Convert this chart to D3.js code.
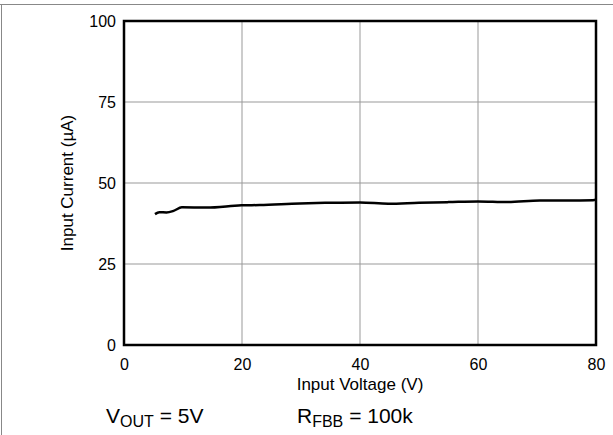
<!DOCTYPE html>
<html><head><meta charset="utf-8">
<script src="https://cdn.jsdelivr.net/npm/d3@7"></script>
<style>body{margin:0;background:#fff}svg{display:block;font-family:"Liberation Sans",Arial,sans-serif}</style>
</head><body><svg id="c" width="613" height="435"></svg>
<script>
const voltage = [5.25, 6.0, 7.2, 8.4, 9.8, 14.0, 19.9, 23, 29.8, 35, 40, 44.8, 50, 55, 60, 65, 70.5, 75, 79.5, 80];
const current = [40.4, 41.0, 40.9, 41.4, 42.5, 42.4, 43.1, 43.2, 43.7, 43.9, 44.0, 43.6, 43.9, 44.1, 44.3, 44.1, 44.6, 44.6, 44.7, 44.8];
const xTicks = [0, 20, 40, 60, 80];
const yTicks = [0, 25, 50, 75, 100];

const FONT = "Liberation Sans, Arial, sans-serif";
const svg = d3.select("#c");
const L = 124, R = 596, T = 21, B = 345;
const x = d3.scaleLinear().domain([0, 80]).range([L, R]);
const y = d3.scaleLinear().domain([0, 100]).range([B, T]);

// outer border
svg.append("line").attr("x1",0).attr("x2",613).attr("y1",4.5).attr("y2",4.5).attr("stroke","#888").attr("stroke-width",1);
svg.append("line").attr("x1",1.5).attr("x2",1.5).attr("y1",4).attr("y2",435).attr("stroke","#888").attr("stroke-width",1);

// grid
svg.append("g").selectAll("line").data(xTicks.slice(1,-1)).join("line")
  .attr("x1",d=>x(d)).attr("x2",d=>x(d)).attr("y1",T).attr("y2",B)
  .attr("stroke","#999").attr("stroke-width",1);
svg.append("g").selectAll("line").data(yTicks.slice(1,-1)).join("line")
  .attr("x1",L).attr("x2",R).attr("y1",d=>y(d)).attr("y2",d=>y(d))
  .attr("stroke","#999").attr("stroke-width",1);

// axes
const gx = svg.append("g").attr("transform",`translate(0,${B})`)
  .call(d3.axisBottom(x).tickValues(xTicks).tickSize(0).tickPadding(14));
gx.attr("font-size",16).attr("font-family",FONT);
gx.select(".domain").remove();
gx.selectAll("text").attr("fill","#000");
const gy = svg.append("g").attr("transform",`translate(${L},0)`)
  .call(d3.axisLeft(y).tickValues(yTicks).tickSize(0).tickPadding(8));
gy.attr("font-size",16).attr("font-family",FONT);
gy.select(".domain").remove();
gy.selectAll("text").attr("fill","#000");

// frame
svg.append("rect").attr("x",L).attr("y",T).attr("width",R-L).attr("height",B-T)
  .attr("fill","none").attr("stroke","#000").attr("stroke-width",2.5);

// curve
svg.append("path").datum(voltage.map((v,i)=>[v,current[i]]))
  .attr("d", d3.line().x(d=>x(d[0])).y(d=>y(d[1])).curve(d3.curveMonotoneX))
  .attr("fill","none").attr("stroke","#000").attr("stroke-width",2.5);

// axis titles
svg.append("text").attr("x",(L+R)/2).attr("y",390).attr("text-anchor","middle")
  .attr("font-size",17).text("Input Voltage (V)");
svg.append("text").attr("transform",`translate(73,${(T+B)/2}) rotate(-90)`).attr("text-anchor","middle")
  .attr("font-size",17).text("Input Current (µA)");

// notes
const n1 = svg.append("text").attr("x",106).attr("y",423).attr("font-size",21);
n1.append("tspan").text("V");
n1.append("tspan").attr("font-size",16).attr("dy",4).text("OUT");
n1.append("tspan").attr("dy",-4).text(" = 5V");
const n2 = svg.append("text").attr("x",297).attr("y",423).attr("font-size",21);
n2.append("tspan").text("R");
n2.append("tspan").attr("font-size",16).attr("dy",4).text("FBB");
n2.append("tspan").attr("dy",-4).text(" = 100k");
</script></body></html>
